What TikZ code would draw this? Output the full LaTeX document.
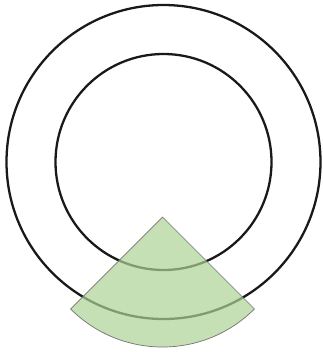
\documentclass[tikz,border=0pt]{standalone}
\usepackage{xcolor}
\usepackage{tikz}
\definecolor{sectorgreen}{RGB}{172,211,148}

\begin{document}
\begin{tikzpicture}[
				x=0.02cm, y=0.02cm,
				ring/.style={draw=black!90, line width=1.3pt},
				sector/.style={
					draw=black!55, line width=0.4pt,
					fill=sectorgreen, fill opacity=0.7
				}
				]
				\useasboundingbox (0,0) rectangle (322,-352);
				\coordinate (centre) at (163.5,-162);
				\coordinate (apex)   at (162.5,-217);
				
				\draw[ring] (centre) circle[radius=157];
				\draw[ring] (centre) circle[radius=108];
				
				\draw[sector] (apex) -- ++(-135:130)
					arc[start angle=-135, end angle=-45, radius=130] -- cycle;
		\end{tikzpicture}
\end{document}
